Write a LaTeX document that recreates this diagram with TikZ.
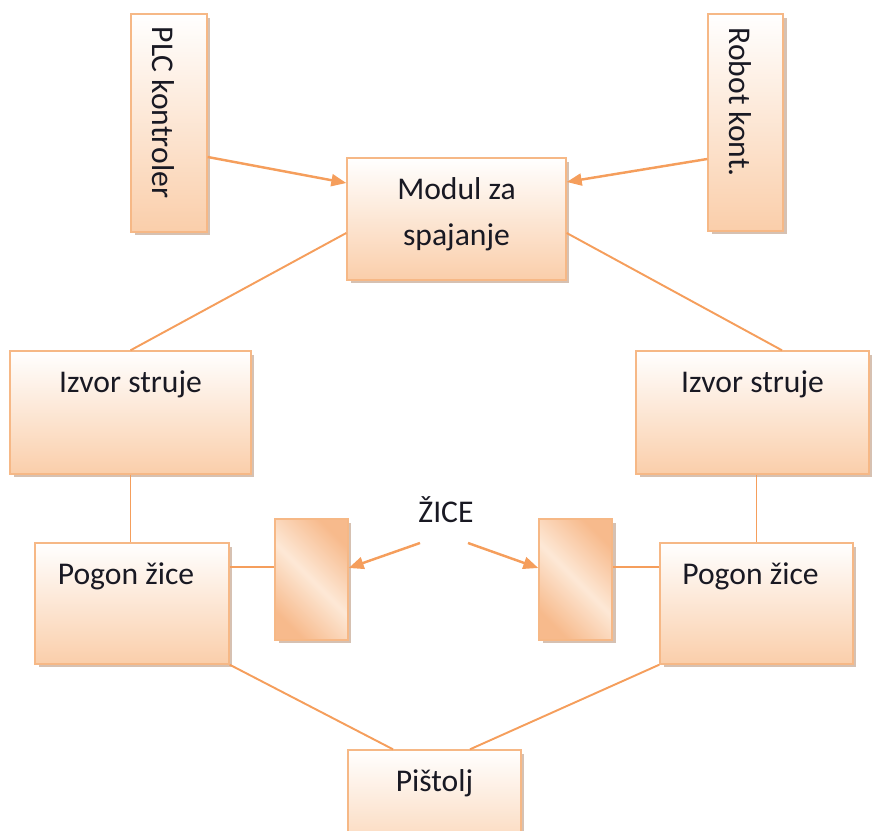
\documentclass[tikz,border=0pt]{standalone}
\usepackage{fontspec}
\setmainfont{Carlito}
\usetikzlibrary{arrows.meta,shadows,calc}
\definecolor{edge}{RGB}{246,184,134}
\definecolor{wire}{RGB}{245,158,92}
\definecolor{peach}{RGB}{250,206,170}
\definecolor{zdark}{RGB}{247,186,140}
\definecolor{zlight}{RGB}{253,232,214}
\definecolor{ink}{RGB}{25,25,35}
\definecolor{shade}{RGB}{196,166,146}
\tikzset{
  >={Triangle[length=3mm,width=2.4mm]},
  lbl/.style={font=\fontsize{18}{26}\selectfont,text=ink,inner sep=0pt,align=center},
  box/.style={draw=edge,line width=0.8pt,top color=white,bottom color=peach,inner sep=0pt,
    drop shadow={shadow xshift=0.7mm,shadow yshift=-0.7mm,fill=shade,opacity=0.7}},
  title/.style={label={[lbl,anchor=north,yshift=-4mm]north:#1}},
  spool/.style={draw=edge,line width=0.8pt,inner sep=0pt,
    top color=zdark,bottom color=zdark,middle color=zlight,shading angle=-45,
    drop shadow={shadow xshift=0.7mm,shadow yshift=-0.7mm,fill=shade,opacity=0.7}},
  link/.style={draw=wire,line width=1.1pt},
  feed/.style={->,draw=wire,fill=wire,line width=1.4pt},
}
\begin{document}
\begin{tikzpicture}[x=0.02cm,y=-0.02cm]
  \useasboundingbox (0,0) rectangle (872,831);
  % controllers and joining module
  \node[box,minimum width=1.52cm,minimum height=4.36cm] (plc) at (169,123) {};
  \node[box,minimum width=1.50cm,minimum height=4.34cm] (robot) at (745.5,122.5) {};
  \node[lbl,rotate=-90,anchor=west] (plcT) at ([xshift=-1.1mm,yshift=-2.6mm]plc.north) {PLC kontroler};
  \node[lbl,rotate=-90,anchor=west] (robotT) at ([xshift=-1.0mm,yshift=-2.8mm]robot.north) {Robot kont.};
  \node[box,minimum width=4.38cm,minimum height=2.44cm,title={Modul za\\spajanje}] (modul) at (456.5,219) {};
  % power sources and wire drives
  \foreach \n/\x/\w in {izvorL/130.5/4.82,izvorR/752.5/4.66}
    \node[box,minimum width=\w cm,minimum height=2.46cm,title=Izvor struje] (\n) at (\x,412.5) {};
  \foreach \n/\x/\w in {pogonL/132/3.88,pogonR/756.5/3.86}
    \node[box,minimum width=\w cm,minimum height=2.42cm,
      label={[lbl,anchor=north,yshift=-4mm,xshift=-1.2mm]north:Pogon žice}] (\n) at (\x,603.5) {};
  \foreach \n/\x in {zL/311.5,zR/575.5}
    \node[spool,minimum width=1.46cm,minimum height=2.42cm] (\n) at (\x,579.5) {};
  \node[lbl,anchor=base] (zice) at (446,522) {ŽICE};
  \node[box,minimum width=3.46cm,minimum height=2.44cm,title=Pištolj] (pistolj) at (434.5,811) {};
  % connectors
  \draw[feed] ([yshift=-6.8mm]plc.east) -- ([yshift=7.2mm]modul.west);
  \draw[feed] ([yshift=-7.3mm]robot.west) -- ([yshift=7.4mm]modul.east);
  \draw[link] ([yshift=-2.8mm]modul.west) -- (izvorL.north);
  \draw[link] ([yshift=-2.8mm]modul.east) -- ([xshift=5.9mm]izvorR.north);
  \draw[link] (izvorL.south) -- (izvorL.south |- pogonL.north);
  \draw[link] (pogonR.north |- izvorR.south) -- (pogonR.north);
  \draw[link] ([yshift=7.3mm]pogonL.east) coordinate (pl) -- (pl -| zL.west);
  \draw[link] ([yshift=7.3mm]pogonR.west) coordinate (pr) -- (pr -| zR.east);
  \coordinate (zl) at (420,543);
  \coordinate (zr) at (468,543);
  \draw[feed] (zl) -- ([yshift=2.3mm]zL.east);
  \draw[feed] (zr) -- ([yshift=2.3mm]zR.west);
  \draw[link] (pogonL.south east) -- ([xshift=-8.3mm]pistolj.north);
  \draw[link] (pogonR.south west) -- ([xshift=7.1mm]pistolj.north);
\end{tikzpicture}
\end{document}
